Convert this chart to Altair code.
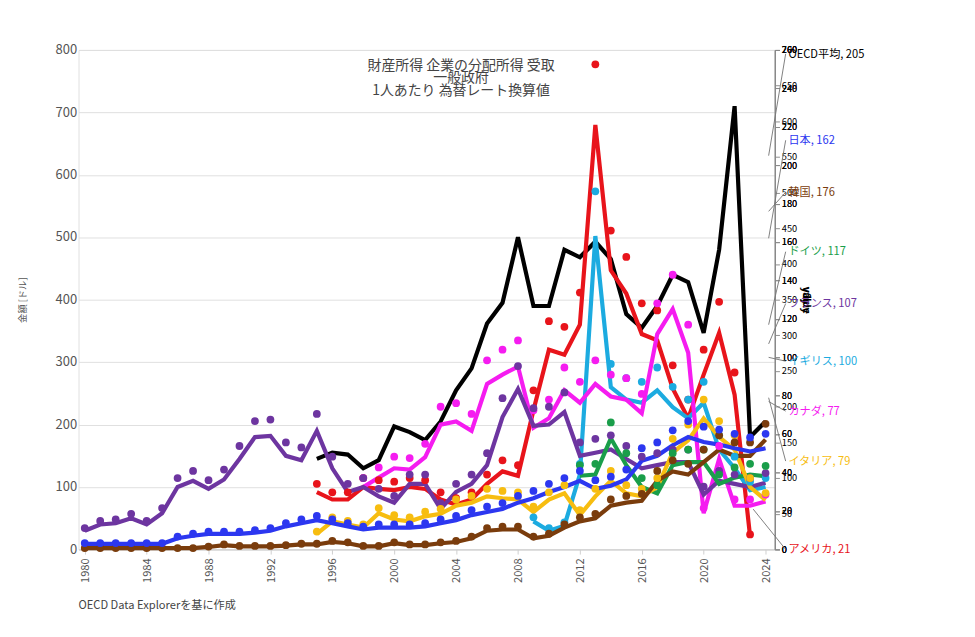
import altair as alt
import pandas as pd

years = list(range(1980, 2025))
N = None
japan = [9,9,9,9,9,9,18,22,25,25,25,27,30,37,42,47,42,37,32,35,35,35,37,42,47,55,60,65,75,82,92,100,110,97,102,112,142,150,167,180,172,168,162,157,162]
korea = [2,2,2,2,2,2,2,2,4,7,5,5,5,6,8,8,12,10,5,5,10,7,7,10,12,18,30,32,32,18,22,35,45,50,70,75,78,110,125,120,140,160,150,150,176]
france = [30,40,42,50,40,58,100,110,97,112,145,180,182,150,143,190,130,92,100,85,75,105,105,65,92,105,135,212,257,198,200,220,150,155,160,145,130,135,140,140,88,110,105,100,107]
oecd = [N]*15 + [145,155,152,130,143,197,188,175,205,255,290,362,395,500,390,390,480,468,493,465,377,355,390,440,428,347,480,710,180,205]
usa = [N]*15 + [92,80,80,100,97,95,100,97,80,72,80,105,125,118,223,320,312,360,680,447,410,345,335,258,210,280,347,248,21,N]
canada = [N]*18 + [100,115,130,128,148,200,205,190,265,280,293,195,210,255,235,265,245,240,218,345,385,315,58,145,70,70,77]
uk = [N]*29 + [45,30,38,120,502,260,240,235,255,228,210,235,160,130,95,100]
germany = [N]*32 + [118,120,178,135,100,90,135,140,140,105,115,120,117]
italy = [N]*15 + [25,45,40,35,58,48,45,53,57,70,75,85,82,80,60,80,90,55,85,110,90,85,100,155,175,210,180,160,100,79]

series = {
    "OECD平均": (oecd, "#000000"),
    "アメリカ": (usa, "#e8141b"),
    "イギリス": (uk, "#1cabe0"),
    "カナダ": (canada, "#f51cf0"),
    "フランス": (france, "#6d35a0"),
    "ドイツ": (germany, "#1a9e4a"),
    "イタリア": (italy, "#f7bd10"),
    "韓国": (korea, "#7a3c0c"),
    "日本": (japan, "#2c37f0"),
}
label_y = {"OECD平均": 258, "日本": 213, "韓国": 186, "ドイツ": 155, "フランス": 128,
           "イギリス": 98, "カナダ": 72, "イタリア": 46, "アメリカ": 0}
label_text = {"OECD平均": "OECD平均, 205", "日本": "日本, 162", "韓国": "韓国, 176",
              "ドイツ": "ドイツ, 117", "フランス": "フランス, 107", "イギリス": "イギリス, 100",
              "カナダ": "カナダ, 77", "イタリア": "イタリア, 79", "アメリカ": "アメリカ, 21"}
title_lines = ["財産所得 企業の分配所得 受取", "一般政府", "1人あたり 為替レート換算値"]

rows, labs = [], []
for name, (vals, col) in series.items():
    last = None
    for y, v in zip(years, vals):
        if v is not None:
            rows.append({"year": y, "value": v, "country": name})
            last = (y, v)
    labs.append({"country": name, "x0": last[0] + 0.2, "y0": last[1], "x1": 2025.3,
                 "ly": label_y[name], "text": label_text[name]})
df = pd.DataFrame(rows)
ldf = pd.DataFrame(labs)

names = list(series.keys())
colors = [series[n][1] for n in names]
cscale = alt.Scale(domain=names, range=colors)

x = alt.X("year:Q", scale=alt.Scale(domain=[1979.6, 2024.6], nice=False), title=None,
          axis=alt.Axis(values=list(range(1980, 2025, 2)), format="d", labelAngle=-90,
                        grid=False, labelFontSize=12, labelColor="#555", domainColor="#ccc",
                        tickColor="#ccc", labelPadding=4, labelOverlap=False))
y = alt.Y("value:Q", scale=alt.Scale(domain=[0, 800]), title="金額 [ドル]",
          axis=alt.Axis(values=list(range(0, 801, 100)), labelFontSize=14, labelColor="#555",
                        gridColor="#ddd", domain=False, ticks=False, titleFontSize=10,
                        titleColor="#555", titleFontWeight="normal", titlePadding=30))

base = alt.Chart(df)
lines = base.mark_line(strokeWidth=4.5).encode(
    x=x, y=y, color=alt.Color("country:N", scale=cscale, legend=None), detail="country:N")
points = base.transform_filter("datum.country != 'OECD平均'").mark_circle(size=70, opacity=1).encode(
    x="year:Q", y="value:Q", color=alt.Color("country:N", scale=cscale, legend=None))

lb = alt.Chart(ldf)
leaders = lb.mark_rule(color="#777", strokeWidth=1).encode(
    x="x0:Q", y="y0:Q", x2="x1:Q", y2="ly:Q")
texts = lb.mark_text(align="left", baseline="middle", dx=3, fontSize=12).encode(
    x="x1:Q", y="ly:Q", text="text:N",
    color=alt.Color("country:N", scale=cscale, legend=None))
source = alt.Chart(pd.DataFrame({"t": ["OECD Data Explorerを基に作成"]})).mark_text(
    align="left", fontSize=12, color="#444").encode(
    x=alt.value(0), y=alt.value(60 + 538), text="t:N")
tdf = pd.DataFrame({"t": title_lines, "i": [0, 1, 2]})
title = alt.Chart(tdf).mark_text(align="center", fontSize=15, color="#444").encode(
    x=alt.value(412), y=alt.ExprRef("0") if False else alt.Y("i:O", scale=alt.Scale(range=[10, 50]), axis=None),
    text="t:N")

chart = alt.layer(lines, points, leaders, texts, source, title).resolve_scale(y="independent").properties(
    width=750, height=538,
    padding={"left": 10, "top": 13, "right": 110, "bottom": 30},
).configure_view(stroke=None).configure(font="Noto Sans CJK JP")

chart.save("out.html", embed_options={"renderer": "svg", "actions": False})
